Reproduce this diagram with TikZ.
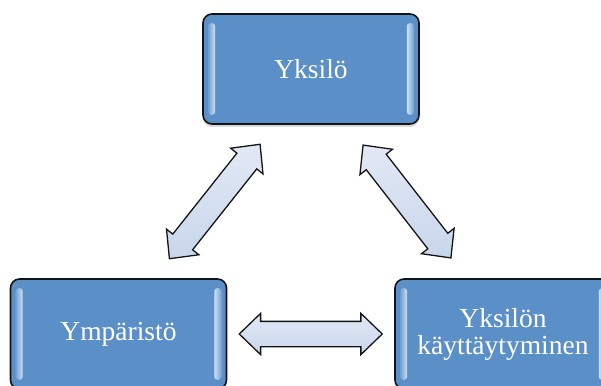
\documentclass[tikz,border=0pt]{standalone}
\usepackage{fontspec}
\setmainfont{Liberation Serif}
\usetikzlibrary{shapes.arrows,shadows,calc}
\definecolor{boxblue}{RGB}{91,143,200}
\definecolor{boxblueL}{RGB}{205,224,246}
\definecolor{arrowblue}{RGB}{200,214,235}
\definecolor{arrowblueL}{RGB}{226,233,245}
\definecolor{edgegray}{RGB}{20,20,20}

\begin{document}
\begin{tikzpicture}[x=1pt, y=1pt,
	box/.style={draw=edgegray, line width=1.6pt, rounded corners=9pt, fill=boxblue, minimum width=216pt, minimum height=110pt, text=white, font=\fontsize{27.5}{27}\selectfont, align=center, drop shadow={opacity=0.3, shadow xshift=0pt, shadow yshift=-3pt}},
	dblarrow/.style={double arrow, draw=edgegray, line width=1.3pt, top color=arrowblueL, bottom color=arrowblue, inner xsep=0pt, inner ysep=12pt, double arrow head extend=8pt, double arrow tip angle=88}]
			\useasboundingbox (0,0) rectangle (601,385);
			\clip (0,0) rectangle (601,385);
			\node (a) at (311,316) [box] {Yksilö};
			\node (b) at (118.5,51) [box] {Ympäristö};
			\node (c) at (503,51) [box] {Yksilön\\käyttäytyminen};
			\foreach \n in {a,b,c} {
				\shade[left color=boxblue!85!white, right color=boxblueL, rounded corners=3pt] ($(\n.north west)+(6,-10)$) rectangle ($(\n.south west)+(13,10)$);
				\shade[left color=boxblueL, right color=boxblue!85!white, rounded corners=3pt] ($(\n.north east)+(-13,-10)$) rectangle ($(\n.south east)+(-6,10)$);
			}
			\node (ab) at ($(a.south west)!0.5!(b.north east)$) [dblarrow, rotate=51.6, minimum height=146pt] {};
			\node (ac) at ($(a.south east)!0.5!(c.north west)$) [dblarrow, rotate=-52.1, minimum height=143pt] {};
			\node (bc) at ($(b.east)!0.5!(c.west)$) [dblarrow, minimum height=143pt] {};
			\end{tikzpicture}
\end{document}
